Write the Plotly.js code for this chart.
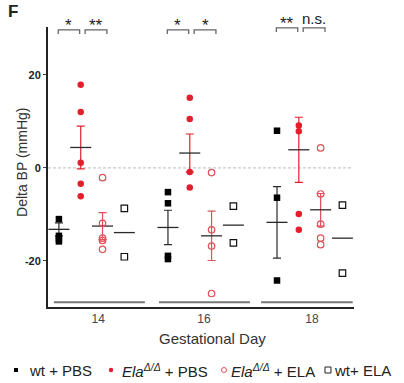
<!DOCTYPE html>
<html>
<head>
<meta charset="utf-8">
<script src="https://cdn.plot.ly/plotly-3.0.1.min.js"></script>
<style>html,body{margin:0;padding:0;background:#fff;}#chart{width:404px;height:383px;}</style>
</head>
<body>
<div id="chart"></div>
<script>
// ---- data ----
const days = ['14', '16', '18'];
const wtPBS = [[-11.0, -14.6, -15.3, -15.8], [-5.2, -7.6, -18.9, -19.6], [8.0, -6.4, -24.2]];
const wtPBSMean = [-13.2, -12.8, -11.7];
const wtPBSSem = [1.4, 3.7, 7.7];
const elaPBS = [[17.9, 12.0, 1.1, -3.4, -6.1], [15.1, 10.5, -0.9, -4.2], [9.1, 7.9, -9.9, -13.3]];
const elaPBSMean = [4.4, 3.2, 3.9];
const elaPBSSem = [4.6, 4.1, 7.0];
const elaELA = [[-2.1, -11.9, -15.1, -15.6, -17.5], [-1.0, -13.3, -16.8, -27.0], [4.3, -5.6, -12.1, -15.1, -16.5]];
const elaELAMean = [-12.5, -14.6, -9.0];
const elaELASem = [2.9, 5.3, 3.5];
const wtELA = [[-8.7, -19.1], [-8.2, -16.1], [-8.0, -22.6]];
const wtELAMean = [-13.9, -12.3, -15.1];
const signif = [['*', '**'], ['*', '*'], ['**', 'n.s.']];
const legendLabels = ['wt + PBS', '<i>Ela</i><sup><i>Δ/Δ</i></sup> + PBS', '<i>Ela</i><sup><i>Δ/Δ</i></sup> + ELA', 'wt+ ELA'];

// ---- layout helpers ----
const FONT = 'Liberation Sans, Arial, sans-serif';
const RED = '#e0212d';
const LRED = '#e2505a';
const DARK = '#2a2a2a';
const slot = (g, k) => g * 5 + k;

function pointsTrace(vals, k, marker) {
  const x = [], y = [];
  vals.forEach((arr, g) => arr.forEach(v => { x.push(slot(g, k)); y.push(v); }));
  return {type: 'scatter', mode: 'markers', x, y, marker, showlegend: false, hoverinfo: 'skip', cliponaxis: false};
}
function meanTrace(means, sems, k, errColor) {
  const t = {
    type: 'scatter', mode: 'markers', showlegend: false, hoverinfo: 'skip',
    x: means.map((_, g) => slot(g, k)), y: means,
    marker: {symbol: 'line-ew-open', size: 15, color: DARK, line: {color: DARK, width: 1.3}}
  };
  if (sems) t.error_y = {type: 'data', array: sems, visible: true, color: errColor, thickness: 1.2, width: 4};
  return t;
}

const traces = [
  meanTrace(wtPBSMean, wtPBSSem, 0, DARK),
  meanTrace(elaPBSMean, elaPBSSem, 1, RED),
  meanTrace(elaELAMean, elaELASem, 2, LRED),
  meanTrace(wtELAMean, null, 3, DARK),
  pointsTrace(wtPBS, 0, {symbol: 'square', size: 6.5, color: '#000'}),
  pointsTrace(elaPBS, 1, {symbol: 'circle', size: 6.5, color: RED}),
  pointsTrace(elaELA, 2, {symbol: 'circle-open', size: 6.5, color: LRED, line: {width: 1.2, color: LRED}}),
  pointsTrace(wtELA, 3, {symbol: 'square-open', size: 6.5, color: '#111', line: {width: 1.2, color: '#111'}})
];

const shapes = [];
const annotations = [];
// zero dashed line
shapes.push({type: 'line', xref: 'x', yref: 'y', x0: -0.5, x1: 13.45, y0: 0, y1: 0, layer: 'below',
  line: {color: '#aaa', width: 0.8, dash: '3px,2px'}});
// gray group baselines
[[-0.23, 3.94], [4.59, 8.76], [9.27, 13.47]].forEach(([a, b]) => {
  shapes.push({type: 'line', xref: 'x', yref: 'y', x0: a, x1: b, y0: -28.9, y1: -28.9, line: {color: '#777', width: 2}});
});
// significance brackets
signif.forEach((pair, g) => {
  const top = g === 2 ? 30.1 : 29.7;
  [[-0.03, 0.95], [1.2, 2.2]].forEach(([a, b], i) => {
    const x0 = slot(g, a), x1 = slot(g, b);
    shapes.push({type: 'path', xref: 'x', yref: 'y',
      path: `M${x0},${top - 0.9} L${x0},${top} L${x1},${top} L${x1},${top - 0.9}`,
      line: {color: '#666', width: 1.3}});
    const isText = pair[i] === 'n.s.';
    annotations.push({xref: 'x', yref: 'y', x: (x0 + x1) / 2, y: top, xanchor: 'center', yanchor: 'bottom',
      yshift: isText ? -1 : -7, text: pair[i], showarrow: false,
      font: {family: FONT, size: isText ? 15 : 17, color: '#222'}});
  });
});

// labels
annotations.push({xref: 'paper', yref: 'paper', x: -0.114, y: 1.054, xanchor: 'center', yanchor: 'middle',
  text: '<b>F</b>', showarrow: false, font: {family: FONT, size: 17, color: '#222'}});
annotations.push({xref: 'paper', yref: 'paper', x: -0.085, y: 0.518, xanchor: 'center', yanchor: 'middle',
  text: 'Delta BP (mmHg)', textangle: -90, showarrow: false, font: {family: FONT, size: 14, color: '#333'}});
annotations.push({xref: 'paper', yref: 'paper', x: 0.539, y: -0.111, xanchor: 'center', yanchor: 'middle',
  text: 'Gestational Day', showarrow: false, font: {family: FONT, size: 15, color: '#333'}});

// legend
const lgY = -0.225;
const lgTextX = [-0.0686, 0.235, 0.5915, 0.928];
const lgMarkX = [-0.1045, 0.2059, 0.5752, 0.915];
legendLabels.forEach((t, i) => {
  annotations.push({xref: 'paper', yref: 'paper', x: lgTextX[i], y: lgY, xanchor: 'left', yanchor: 'middle',
    text: t, showarrow: false, font: {family: FONT, size: 15, color: '#222'}});
});
const lgShapes = [
  {type: 'rect', r: 2, fill: '#000', line: '#000', w: 0},
  {type: 'circle', r: 2.2, fill: RED, line: RED, w: 0},
  {type: 'circle', r: 2.5, fill: 'rgba(0,0,0,0)', line: LRED, w: 1},
  {type: 'rect', r: 3, fill: 'rgba(0,0,0,0)', line: '#222', w: 1}
];
lgShapes.forEach((s, i) => {
  shapes.push({type: s.type, xref: 'paper', yref: 'paper', xsizemode: 'pixel', ysizemode: 'pixel',
    xanchor: lgMarkX[i], yanchor: lgY, x0: -s.r, x1: s.r, y0: -s.r, y1: s.r,
    fillcolor: s.fill, line: {color: s.line, width: s.w}});
});

const layout = {
  width: 404, height: 383,
  margin: {l: 48, r: 50, t: 27, b: 76},
  paper_bgcolor: '#fff', plot_bgcolor: '#fff',
  showlegend: false,
  font: {family: FONT, color: '#333'},
  xaxis: {range: [-0.5, 13.53], showline: true, linewidth: 2, linecolor: '#222', showgrid: false, zeroline: false,
    tickvals: [1.8, 6.65, 11.6], ticktext: days, ticks: '', tickfont: {family: FONT, size: 12, color: '#444'}},
  yaxis: {range: [-29.9, 30.3], showline: true, linewidth: 2, linecolor: '#222', showgrid: false, zeroline: false,
    tickvals: [-20, 0, 20], ticktext: ['<b>-20</b>', '<b>0</b>', '<b>20</b>'], ticks: 'outside', ticklen: 3, tickwidth: 1, tickcolor: '#444',
    tickfont: {family: FONT, size: 11, color: '#222'}},
  shapes, annotations
};

Plotly.newPlot('chart', traces, layout, {displayModeBar: false, staticPlot: true});
</script>
</body>
</html>
